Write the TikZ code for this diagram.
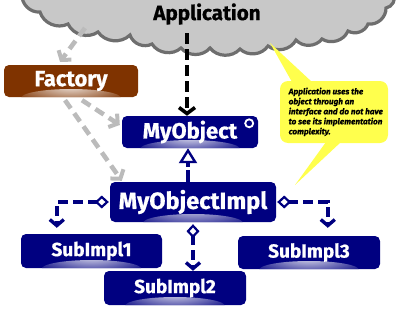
\documentclass[tikz,border=0pt]{standalone}
\usepackage{fontspec}
\setmainfont{Fira Sans}
\newfontfamily\heavyfamily{Fira Sans}[BoldFeatures={FakeBold=0.7},BoldItalicFeatures={FakeBold=0.5}]
\newcommand{\heavyfont}{\heavyfamily\bfseries}
\newcommand{\heavyitfont}{\heavyfamily\bfseries\itshape}
\usetikzlibrary{arrows.meta,calc}
\definecolor{navyblue}{HTML}{000080}
\definecolor{boxbrown}{HTML}{7F3300}
\definecolor{cloudfill}{HTML}{C8C8C8}
\definecolor{cloudline}{HTML}{6E6E6E}
\definecolor{notefill}{HTML}{FFFF4D}
\definecolor{usegray}{HTML}{BBBBBB}
\tikzset{
  glowbox/.style 2 args={rounded corners=5pt, draw=none, fill=#1, text=white,
    inner sep=0pt,
    path picture={\shade[inner color=#2, outer color=#1]
      ([yshift=-1pt]path picture bounding box.south) ellipse [x radius=50pt, y radius=9pt];}},
  classbox/.style={glowbox={navyblue}{white!85!navyblue}},
  factorybox/.style={glowbox={boxbrown}{white!85!boxbrown}},
  bigtext/.style={font=\heavyfont\fontsize{22}{22}\selectfont},
  subtext/.style={font=\heavyfont\fontsize{19}{19}\selectfont},
  usearrow/.style={usegray, line width=4.6pt, dash pattern=on 10pt off 6pt,
    -{Straight Barb[length=6pt,width=16pt,line width=4pt]}},
  callarrow/.style={black, line width=4.2pt, dash pattern=on 11pt off 5pt,
    -{Straight Barb[length=6pt,width=16pt,line width=3.6pt]}},
  ownarrow/.style={navyblue, line width=3.6pt, dash pattern=on 10pt off 5pt,
    {Diamond[fill=white,length=14pt,width=13pt,line width=2.2pt]}-{Straight Barb[length=6pt,width=14pt,line width=3.4pt]}},
  inheritarrow/.style={navyblue, line width=3.6pt, dash pattern=on 12pt off 3pt,
    -{Triangle[fill=white,length=15pt,width=18pt,line width=2.4pt]}},
}
\begin{document}
\begin{tikzpicture}[x=1pt,y=-1pt]
\useasboundingbox (0,0) rectangle (400,311);
\begin{scope}
\clip (0,0) rectangle (400,311);
% cloud
\draw[cloudline, fill=cloudfill, line width=3.2pt]
  (22,-6) to[bend right=50] (40,12) to[bend right=50] (68,24)
  to[bend right=50] (98,32) to[bend right=50] (130,35)
  to[bend right=50] (152,44) to[bend right=50] (181,48)
  to[bend right=50] (210,48) to[bend right=50] (240,49)
  to[bend right=50] (268,46) to[bend right=50] (296,40)
  to[bend right=50] (322,39) to[bend right=50] (348,31)
  to[bend right=50] (368,24) to[bend right=50] (386,8)
  to[bend right=50] (394,-6) -- (394,-20) -- (22,-20) -- cycle;
\end{scope}
\node[font=\heavyfont\fontsize{20.6}{20.6}\selectfont] (app) at (207,14) {Application};
\coordinate (appleft) at (85,28);
\coordinate (appcall) at (187,33);

% note
\fill[notefill, rounded corners=8pt] (280,81) rectangle (388,143);
\fill[notefill] (270,43) -- (292,82) -- (312,82) -- cycle;
\fill[notefill] (326,142) -- (341,142) -- (295,185) -- cycle;
\node[anchor=north west, align=left, inner sep=0pt,
  font=\heavyitfont\fontsize{8.2}{10}\selectfont] (note) at (288.5,87.5)
  {Application uses the\\object through an\\interface and do not have\\to see its implementation\\complexity.};

% boxes
\node[factorybox, bigtext, minimum width=134pt, minimum height=32pt] (factory) at (71,81) {Factory};
\node[classbox, bigtext, minimum width=136pt, minimum height=32pt] (myobj) at (190,132) {MyObject};
\draw[white, line width=1.8pt] ([xshift=-9pt,yshift=-7.5pt]myobj.north east) circle (4pt);
\node[classbox, font=\heavyfont\fontsize{23.5}{23.5}\selectfont, minimum width=166pt, minimum height=40pt] (impl) at (193,202) {MyObjectImpl};
\node[classbox, subtext, minimum width=141pt, minimum height=34pt] (sub1) at (91.5,251) {SubImpl1};
\node[classbox, subtext, minimum width=142pt, minimum height=34pt] (sub2) at (175,288) {SubImpl2};
\node[classbox, subtext, minimum width=142pt, minimum height=33pt] (sub3) at (309,252.5) {SubImpl3};

% connectors
\draw[usearrow] (appleft) -- ([xshift=-11pt,yshift=3pt]factory.north);
\draw[usearrow] ([xshift=11pt,yshift=-3pt]factory.south) -- ([xshift=-2pt,yshift=7pt]myobj.west);
\draw[usearrow] ([xshift=-6pt,yshift=-3pt]factory.south) -- ([xshift=12pt,yshift=1pt]impl.north west);
\draw[callarrow] (appcall) -- (appcall |- myobj.north);
\draw[inheritarrow] (impl.north -| myobj.south) ++(-2,0) -- ([xshift=-2pt]myobj.south);
\draw[ownarrow] ([xshift=-1pt]impl.west) -| ([xshift=36pt,yshift=6pt]sub1.north west);
\draw[ownarrow] ([xshift=1pt]impl.east) -| ([xshift=90pt,yshift=8pt]sub3.north west);
\draw[ownarrow] ([yshift=-2pt]impl.south) -- (impl.south |- sub2.north);
\end{tikzpicture}
\end{document}
